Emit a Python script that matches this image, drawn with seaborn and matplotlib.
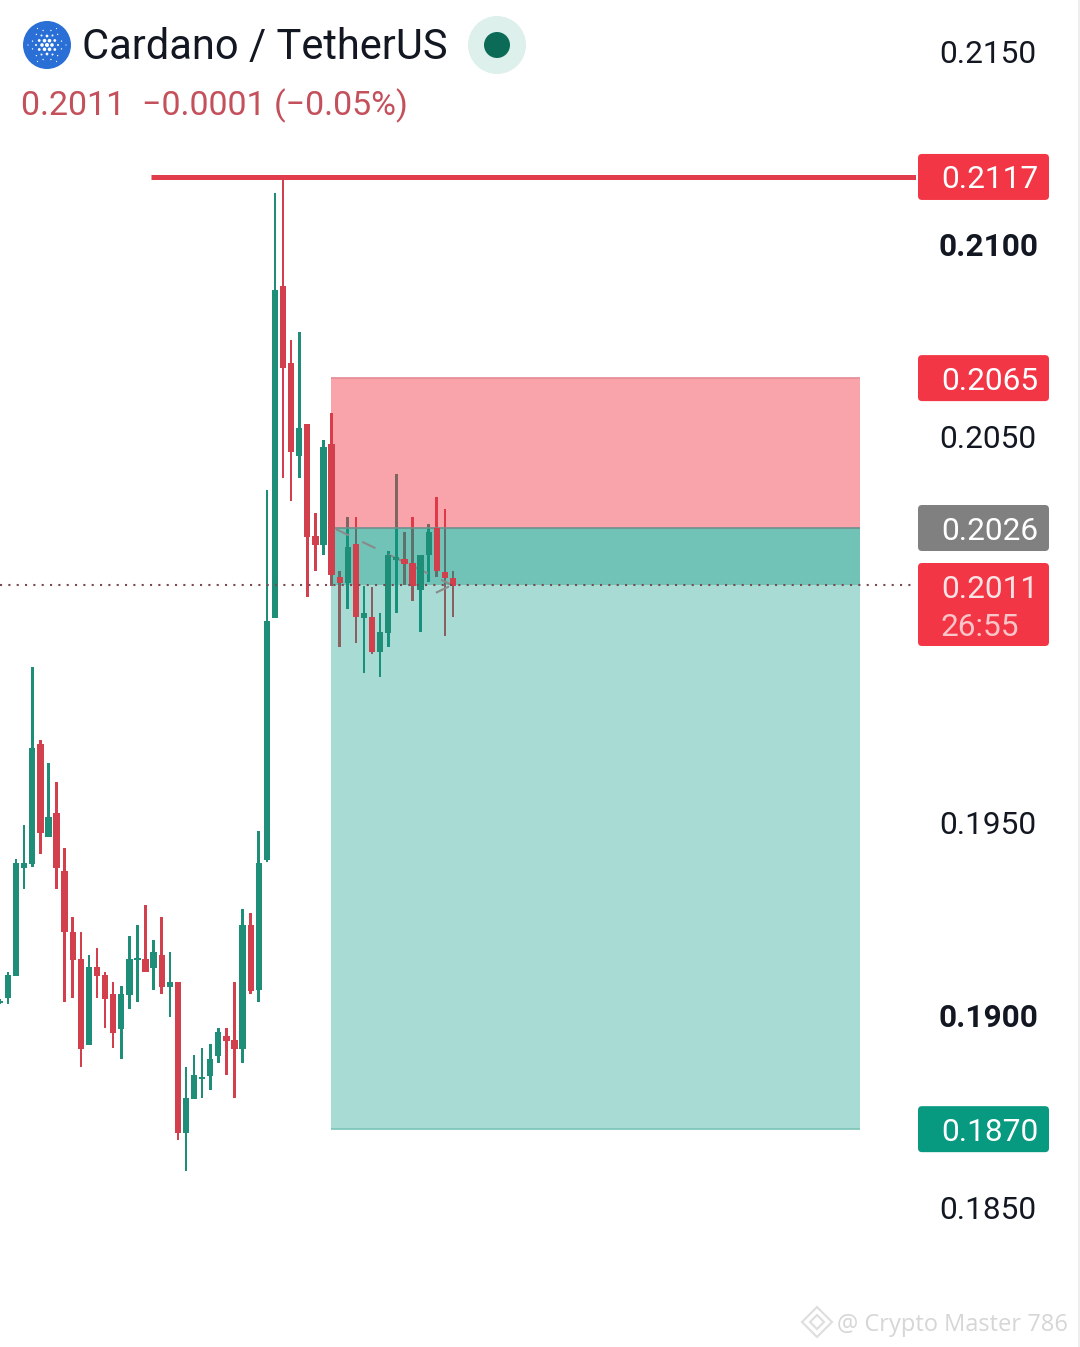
# -*- coding:utf-8 -*-
# ADA / USDT candles with a short position box
import numpy as np
import pandas as pd
import seaborn as sns
import matplotlib.pyplot as plt
from matplotlib.patches import Circle, FancyBboxPatch, Polygon
from matplotlib.transforms import IdentityTransform

opens = [.19030, .19043, .19100, .19381, .19391, .19703, .19461, .19523, .19373, .19215,
         .19145, .18921, .19124, .19103, .19054, .18963, .19051, .19142, .19145, .19121,
         .19155, .19072, .19085, .18693, .18781, .18833, .18841, .18893, .18945, .18934,
         .18911, .19233, .19064, .19401, .20029, .20891, .20691, .20450, .20533, .20242,
         .20219, .20481, .20136, .20120, .20222, .20029, .20032, .19941, .19991, .20180,
         .20183, .20172, .20102, .20193, .20263, .20149, .20133]
highs = [.19040, .19111, .19404, .19492, .19902, .19713, .19653, .19604, .19433, .19254,
         .19215, .19155, .19173, .19111, .19085, .19075, .19204, .19233, .19285, .19194,
         .19254, .19163, .19085, .18864, .18895, .18914, .18924, .18966, .18966, .19085,
         .19274, .19264, .19477, .20362, .21132, .21171, .20751, .20772, .20533, .20302,
         .20491, .20561, .20151, .20292, .20292, .20112, .20110, .20042, .20203, .20403,
         .20253, .20292, .20193, .20273, .20343, .20312, .20151]
lows = [.19028, .19028, .19100, .19326, .19383, .19417, .19461, .19326, .19033, .19043,
        .18864, .18921, .19043, .18966, .18914, .18885, .19015, .19033, .19111, .19064,
        .19054, .18994, .18675, .18594, .18781, .18784, .18805, .18875, .18844, .18784,
        .18875, .19054, .19033, .19396, .20029, .20393, .20333, .20393, .20084, .20151,
        .20193, .20112, .19954, .20053, .19965, .19887, .19936, .19876, .19954, .20042,
        .20115, .20074, .19993, .20123, .20136, .19983, .20032]
closes = [.19036, .19103, .19394, .19394, .19692, .19472, .19513, .19381, .19215, .19142,
          .18911, .19124, .19100, .19041, .18953, .19054, .19145, .19147, .19111, .19163,
          .19072, .19085, .18693, .18784, .18844, .18838, .18885, .18955, .18932, .18911,
          .19233, .19062, .19394, .20022, .20881, .20678, .20460, .20523, .20240, .20219,
          .20473, .20141, .20120, .20214, .20032, .20042, .19941, .19993, .20193, .20188,
          .20170, .20112, .20193, .20253, .20151, .20133, .20112]

tick_prices = [0.2150, 0.2100, 0.2050, 0.1950, 0.1900, 0.1850]
bold_ticks = [0.2100, 0.1900]
last_price = 0.20115
high_line = 0.21174
stop_price = 0.20652
entry_price = 0.20263
target_price = 0.18703

# position tool and high line, in bar numbers
box_start, box_end = 40.93, 106.3
line_start = 18.68
dash_bars = [41.54, 55.88]
dash_prices = [0.20260, 0.20115]
head_bars = [53.9, 55.88]
head_prices = [0.20095, 0.20115]

# price tags: label, price, colour
tag_labels = ['0.2117', '0.2065', '0.2026', '0.2011', '0.1870']
tag_prices = [0.21174, 0.20652, 0.20263, 0.20112, 0.18703]
tag_colors = ['#F23645', '#F23645', '#808080', '#F23645', '#089981']

W, H = 1080, 1347
GREEN = '#1E8E78'
RED = '#D23F4D'

sns.set_theme(style='white')
plt.rcParams['font.family'] = ['Roboto', 'DejaVu Sans']

df = pd.DataFrame({'bar': np.arange(len(opens)), 'open': opens, 'high': highs, 'low': lows, 'close': closes})
df['up'] = df['close'] >= df['open']
df['top'] = df[['open', 'close']].max(axis=1)
df['bottom'] = df[['open', 'close']].min(axis=1)

fig = plt.figure(figsize=(W / 100, H / 100), dpi=100, facecolor='white')
ax = fig.add_axes([0, 0, 916 / W, 1])

for is_up, color in [(True, GREEN), (False, RED)]:
    part = df[df['up'] == is_up].sort_values('bar')
    sns.barplot(x=part['bar'].values, y=(part['high'] - part['low']).values, bottom=part['low'].values,
                orient='x', native_scale=True, color=color, saturation=1, width=0.32, linewidth=0,
                errorbar=None, zorder=1, ax=ax)
    sns.barplot(x=part['bar'].values, y=(part['top'] - part['bottom']).values, bottom=part['bottom'].values,
                orient='x', native_scale=True, color=color, saturation=1, width=0.78, linewidth=0,
                errorbar=None, zorder=3, ax=ax)

ax.set_xlim(0.011, 113.24)
ax.set_ylim(0.21 - (H - 244) * 2.595e-5, 0.21 + 244 * 2.595e-5)

# position box
ax.fill_between([box_start, box_end], entry_price, stop_price, color='#F23645', alpha=0.45, lw=0, zorder=2)
ax.fill_between([box_start, box_end], target_price, entry_price, color='#089981', alpha=0.35, lw=0, zorder=2)
ax.fill_between([box_start, box_end], last_price, entry_price, color='#089981', alpha=0.35, lw=0, zorder=2)
ax.hlines(stop_price, box_start, box_end, color='#E58A92', lw=1.2, zorder=2)
ax.hlines(entry_price, box_start, box_end, color='#6F8F8A', lw=1.2, zorder=2)
ax.hlines(target_price, box_start, box_end, color='#7CC4B6', lw=1.2, zorder=2)

ax.plot(dash_bars, dash_prices, color='#8A8A8A', lw=1.5, dashes=(7, 7), zorder=2.5)
ax.plot(head_bars, head_prices, color='#8A8A8A', lw=1.5, dashes=(7, 7), zorder=2.5)

ax.hlines(high_line, line_start, 113.24, color='#E23D4C', lw=3.6, zorder=4)
ax.axhline(last_price, color='#7A4A50', lw=1.5, dashes=(1, 3), zorder=4)

# price axis
ax.yaxis.tick_right()
ax.set_yticks(tick_prices)
ax.set_yticklabels(['%.4f' % t for t in tick_prices])
ax.set_xticks([])
ax.set_xlabel('')
ax.set_ylabel('')
ax.tick_params(axis='y', length=0, pad=16.4, labelsize=22.8, labelcolor='#131722')
for t, lab in zip(tick_prices, ax.get_yticklabels()):
    if t in bold_ticks:
        lab.set_fontweight('bold')
for s in ax.spines.values():
    s.set_visible(False)
ax.patch.set_alpha(0)

ident = IdentityTransform()


def price_y(price):
    return ax.transData.transform((0, price))[1]


def put_text(x, y, s, **kw):
    # x, y are picture pixels, y from the top
    fig.text(x, H - y, s, transform=ident, **kw)


def put_circle(x, y, r, color):
    fig.add_artist(Circle((x, H - y), r, transform=ident, color=color, lw=0))


# price tags on the right
for label, price, color in zip(tag_labels, tag_prices, tag_colors):
    yc = price_y(price)
    hh = 23
    y0 = yc - hh
    height = 2 * hh
    if label == '0.2011':
        y0 = H - 646
        height = 83
    fig.add_artist(FancyBboxPatch((921, y0 + 3), 125, height - 6, boxstyle='round,pad=3,rounding_size=4',
                                  transform=ident, facecolor=color, edgecolor='none'))
    if label == '0.2011':
        fig.text(941, H - 590, label, transform=ident, fontsize=22.8, color='#FBE3E5', va='center')
        fig.text(941, H - 627, '26:55', transform=ident, fontsize=22.8, color='#FBC4C9', va='center')
    else:
        fig.text(941, yc - 3, label, transform=ident, fontsize=22.8, color='white', va='center')

# header
put_circle(47, 45, 24, '#2A6FD6')
for radius, count, size, phase in [(0, 1, 2.0, 0), (5, 6, 1.8, 0), (9, 6, 1.4, 30), (11, 6, 1.0, 0),
                                   (15, 12, 0.7, 15), (19, 6, 0.6, 0)]:
    for k in range(count):
        a = np.deg2rad(phase + k * 360 / count)
        put_circle(47 + radius * np.cos(a), 45 + radius * np.sin(a), size, 'white')
put_text(82, 47, 'Cardano / TetherUS', fontsize=30, color='#131722', va='center')
put_circle(497, 45, 29, '#DDF0EC')
put_circle(497, 45, 13, '#0B6B57')
put_text(21, 106, '0.2011  \u22120.0001 (\u22120.05%)', fontsize=24.5, color='#C4505C', va='center')

# watermark
fig.add_artist(Polygon([(817, H - 1307), (832, H - 1322), (817, H - 1337), (802, H - 1322)], closed=True,
                       transform=ident, fill=False, edgecolor='#DEDEDE', lw=1.5))
fig.add_artist(Polygon([(817, H - 1315), (824, H - 1322), (817, H - 1329), (810, H - 1322)], closed=True,
                       transform=ident, fill=False, edgecolor='#DEDEDE', lw=1.5))
put_text(837, 1325, '@ Crypto Master 786', fontsize=17, color='#D6D6D6', va='center', family='Open Sans')

# screenshot edge
fig.add_artist(plt.Rectangle((1078, 0), 2, H, transform=ident, color='#EEEEEE', lw=0))

fig.savefig('out.png', dpi=100, facecolor='white')
